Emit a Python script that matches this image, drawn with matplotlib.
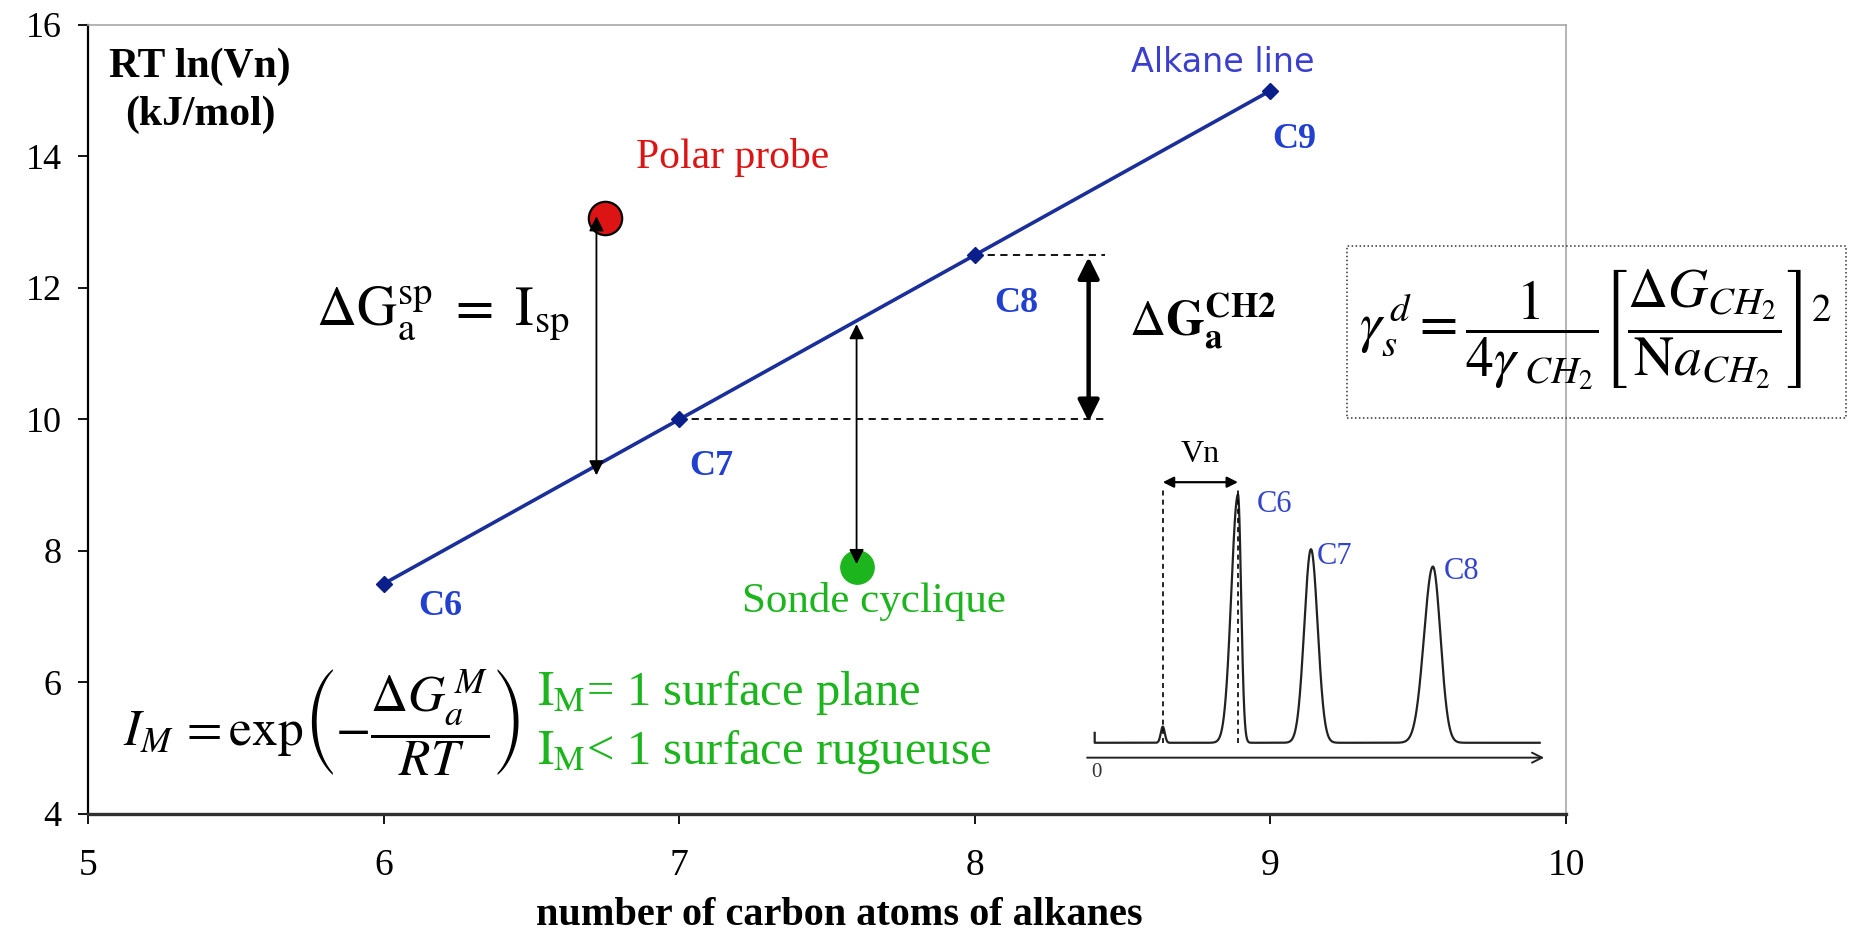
import numpy as np
import matplotlib
matplotlib.use("Agg")
import matplotlib.pyplot as plt
from matplotlib.patches import Rectangle

plt.rcParams["font.family"] = ["Liberation Serif", "DejaVu Serif"]
plt.rcParams["mathtext.fontset"] = "stix"

# ---- data -------------------------------------------------------------
carbon_number = [6, 7, 8, 9]
rt_ln_vn = [7.5, 10.0, 12.5, 15.0]
alkane_labels = ["C6", "C7", "C8", "C9"]

polar_probe = (6.75, 13.07)
cyclic_probe = (7.6, 7.75)

x_ticks = [5, 6, 7, 8, 9, 10]
y_ticks = [4, 6, 8, 10, 12, 14, 16]

# chromatogram (retention scale, relative signal)
peak_time = [1.48, 3.17, 4.81, 7.55]
peak_height = [0.065, 1.0, 0.78, 0.71]
peak_sigma_left = [0.045, 0.15, 0.15, 0.20]
peak_sigma_right = [0.045, 0.07, 0.15, 0.17]
chrom_labels = ["C6", "C7", "C8"]

BLUE_LINE = "#1a2f99"
BLUE_TXT = "#2140d0"
RED = "#dd1414"
GREEN = "#1db51d"

fig = plt.figure(figsize=(18.52, 9.41), dpi=100)
ax = fig.add_axes([0.0475, 0.135, 0.7981, 0.8385])

ax.set_xlim(5, 10)
ax.set_ylim(4, 16)
ax.set_xticks(x_ticks)
ax.set_yticks(y_ticks)
ax.tick_params(axis="y", labelsize=26, length=7, width=1.3, pad=12, direction="out")
ax.tick_params(axis="x", labelsize=27, length=7, width=1.3, pad=18, direction="out")
for s in ("top", "right"):
    ax.spines[s].set_color("#a8a8a8")
    ax.spines[s].set_linewidth(1.2)
ax.spines["left"].set_linewidth(1.6)
ax.spines["bottom"].set_linewidth(2.4)
ax.spines["bottom"].set_color("#303030")
ax.set_xlabel("number of carbon atoms of alkanes", fontsize=29, fontweight="bold")
ax.xaxis.set_label_coords(0.508, -0.105)

# alkane line
ax.plot(carbon_number, rt_ln_vn, color=BLUE_LINE, lw=2.6, marker="D",
        markersize=8, markerfacecolor="#0b1f8a", markeredgecolor="#0b1f8a", zorder=3)
label_offsets = [(0.19, -0.47), (0.11, -0.84), (0.14, -0.87), (0.08, -0.87)]
for xi, yi, lab, (dx, dy) in zip(carbon_number, rt_ln_vn, alkane_labels, label_offsets):
    ax.text(xi + dx, yi + dy, lab, color=BLUE_TXT, fontsize=26, fontweight="bold",
            ha="center", va="baseline")

ax.text(8.84, 15.29, "Alkane line", color="#3a3fcf", fontsize=24,
        family="DejaVu Sans", ha="center", va="baseline")

# y-axis title inside the frame
ax.text(5.38, 15.37, "RT ln(Vn)", fontsize=30, fontweight="bold", ha="center", va="center")
ax.text(5.38, 14.63, "(kJ/mol)", fontsize=30, fontweight="bold", ha="center", va="center")

# CH2 increment between C7 and C8
ax.plot([carbon_number[2], 8.44], [rt_ln_vn[2]] * 2, ls=(0, (4, 3)), color="black", lw=1.3)
ax.plot([carbon_number[1], 8.44], [rt_ln_vn[1]] * 2, ls=(0, (4, 3)), color="black", lw=1.3)
ax.annotate("", xy=(8.385, rt_ln_vn[2] - 0.03), xytext=(8.385, rt_ln_vn[1] - 0.03),
            arrowprops=dict(arrowstyle="<|-|>", color="black", lw=3.2,
                            mutation_scale=32, shrinkA=0, shrinkB=0))
ax.text(8.52, 11.5, r"$\Delta\mathbf{G}_{\mathbf{a}}^{\mathbf{CH2}}$", fontsize=36,
        ha="left", va="center")

# polar probe
ax.plot(*polar_probe, marker="o", markersize=24, markerfacecolor=RED,
        markeredgecolor="black", markeredgewidth=1.6, zorder=4)
ax.annotate("", xy=(6.72, polar_probe[1] + 0.02), xytext=(6.72, 7.5 + 2.5 * 0.72 - 0.15),
            arrowprops=dict(arrowstyle="<|-|>", color="black", lw=1.3,
                            mutation_scale=22, shrinkA=0, shrinkB=0), zorder=5)
ax.text(7.18, 13.83, "Polar probe", color=RED, fontsize=30, ha="center", va="baseline")
ax.text(5.77, 11.6, r"$\Delta\mathrm{G}_{\mathrm{a}}^{\mathrm{sp}}\ =\ \mathrm{I}_{\mathrm{sp}}$",
        fontsize=40, ha="left", va="center")

# cyclic probe
ax.plot(*cyclic_probe, marker="o", markersize=24, markerfacecolor=GREEN,
        markeredgecolor=GREEN, zorder=4)
ax.annotate("", xy=(7.6, 7.5 + 2.5 * 1.6 - 0.05), xytext=(7.6, cyclic_probe[1] + 0.05),
            arrowprops=dict(arrowstyle="<|-|>", color="black", lw=1.3,
                            mutation_scale=22, shrinkA=0, shrinkB=0), zorder=5)
ax.text(7.66, 7.07, "Sonde cyclique", color=GREEN, fontsize=31, ha="center", va="baseline")

# morphology index
ax.text(5.12, 5.38, r"$I_M\, = \exp\!\left(-\dfrac{\Delta G_a^{\,M}}{RT}\right)$",
        fontsize=37, ha="left", va="center")
ax.text(6.52, 5.66, r"$\mathrm{I_M}$= 1 surface plane", color=GREEN, fontsize=35,
        ha="left", va="baseline")
ax.text(6.52, 4.76, r"$\mathrm{I_M}$< 1 surface rugueuse", color=GREEN, fontsize=35,
        ha="left", va="baseline")

# dispersive surface energy formula in a dotted frame
fig.patches.append(Rectangle((0.7273, 0.5558), 0.2694, 0.1828, transform=fig.transFigure,
                             fill=False, ls=(0, (1, 1.6)), lw=1.1, color="#333333"))
fig.text(0.8615, 0.650,
         r"$\gamma_s^{\,d} = \dfrac{1}{4\gamma_{\;CH_2}}\left[\dfrac{\Delta G_{CH_2}}{\mathrm{N}a_{CH_2}}\right]^2$",
         fontsize=40, ha="center", va="center")

# chromatogram inset
ins = fig.add_axes([0.5858, 0.1711, 0.2511, 0.3613])
ins.set_xlim(-0.27, 10.18)
ins.set_ylim(-0.15, 1.22)
ins.axis("off")
t = np.linspace(-0.05, 9.95, 2000)
signal = np.zeros_like(t)
for t0, h, sl, sr in zip(peak_time, peak_height, peak_sigma_left, peak_sigma_right):
    sig = np.where(t < t0, sl, sr)
    signal += h * np.exp(-0.5 * ((t - t0) / sig) ** 2)
ins.plot(np.r_[t[0], t], np.r_[0.04, signal], color="#222222", lw=1.6)
ins.annotate("", xy=(10.05, -0.06), xytext=(-0.22, -0.06),
             arrowprops=dict(arrowstyle="->", color="#222222", lw=1.4,
                             mutation_scale=18, shrinkA=0, shrinkB=0))
ins.text(0.0, -0.12, "0", fontsize=15, ha="center", va="center", color="#333333")
for t0 in peak_time[:2]:
    ins.plot([t0, t0], [0.0, 1.03], ls=(0, (3, 2.5)), color="black", lw=1.2)
ins.annotate("", xy=(peak_time[1], 1.05), xytext=(peak_time[0], 1.05),
             arrowprops=dict(arrowstyle="<|-|>", color="black", lw=1.6,
                             mutation_scale=16, shrinkA=0, shrinkB=0))
ins.text((peak_time[0] + peak_time[1]) / 2, 1.16, "Vn", fontsize=23, ha="center", va="center")
chrom_label_pos = [(4.0, 0.96), (5.35, 0.75), (8.2, 0.69)]
for (lx, ly), lab in zip(chrom_label_pos, chrom_labels):
    ins.text(lx, ly, lab, color="#3344cc", fontsize=22, ha="center", va="center")

fig.savefig("out.png", dpi=100)
